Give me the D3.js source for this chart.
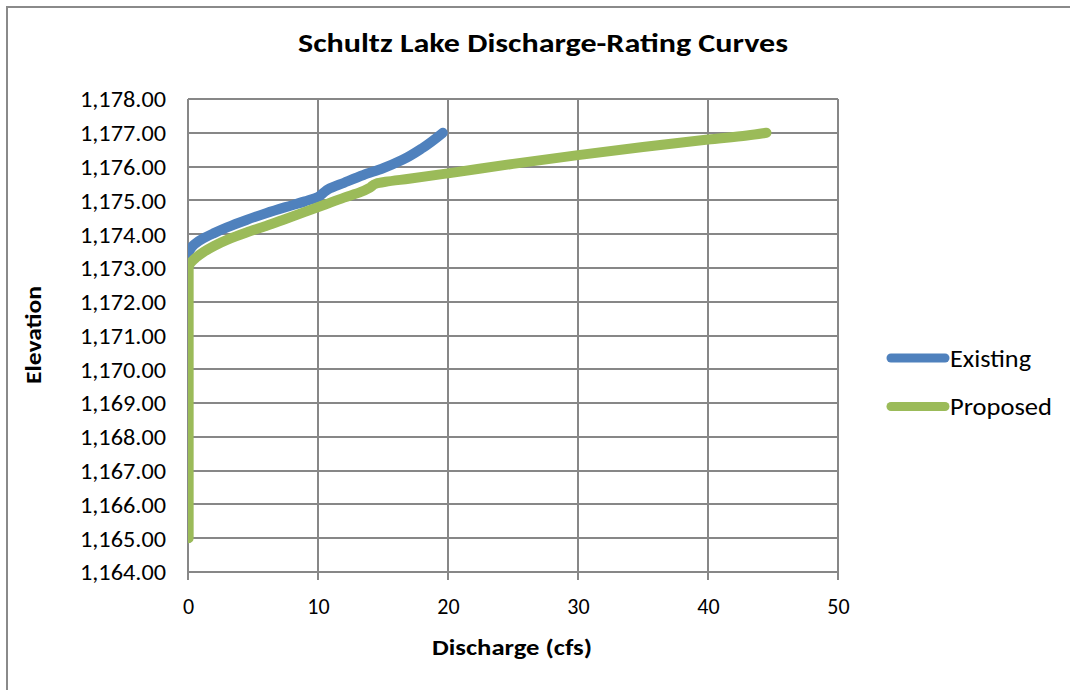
<!DOCTYPE html>
<html>
<head>
<meta charset="utf-8">
<script src="https://cdn.jsdelivr.net/npm/d3@7"></script>
<style>
  html, body { margin: 0; padding: 0; background: #fff; }
  svg { display: block; }
  text { font-family: Carlito, Calibri, Lato, "Open Sans", sans-serif; fill: #000; }
</style>
</head>
<body>
<svg id="chart" width="1070" height="690"></svg>
<script>
// ---- data ----
const title = "Schultz Lake Discharge-Rating Curves";
const xTitle = "Discharge (cfs)";
const yTitle = "Elevation";
const seriesNames = ["Existing", "Proposed"];
const seriesColors = ["#4F81BD", "#9BBB59"];
const legendWidths = [81, 102];

const existingQ = [0, 0, 0.1, 0.5, 1.2, 2.0, 3.0, 4.5, 6.0, 7.5, 9.0, 10.0, 10.4, 10.8, 12.0, 13.5, 15.0, 16.5, 18.0, 19.6];
const existingE = [1165, 1173.3, 1173.5, 1173.7, 1173.88, 1174.03, 1174.2, 1174.42, 1174.62, 1174.8, 1174.97, 1175.1, 1175.22, 1175.33, 1175.52, 1175.75, 1175.95, 1176.2, 1176.54, 1177.0];

const proposedQ = [0.05, 0.05, 0.2, 0.6, 1.2, 2.0, 3.0, 4.5, 6.0, 7.5, 9.0, 10.5, 12.0, 13.3, 14.0, 14.5, 15.2, 17.0, 20.0, 25.0, 30.0, 35.0, 40.0, 43.0, 44.5];
const proposedE = [1165, 1173.0, 1173.15, 1173.3, 1173.47, 1173.65, 1173.83, 1174.05, 1174.24, 1174.45, 1174.66, 1174.87, 1175.08, 1175.25, 1175.38, 1175.5, 1175.55, 1175.64, 1175.8, 1176.08, 1176.34, 1176.58, 1176.8, 1176.92, 1177.0];

const xTicks = [0, 10, 20, 30, 40, 50];
const yTicks = [1164, 1165, 1166, 1167, 1168, 1169, 1170, 1171, 1172, 1173, 1174, 1175, 1176, 1177, 1178];

// ---- layout ----
const svg = d3.select("#chart");
const plot = { left: 188, right: 838, top: 99, bottom: 572 };
const x = d3.scaleLinear().domain([0, 50]).range([plot.left, plot.right]);
const y = d3.scaleLinear().domain([1164, 1178]).range([plot.bottom, plot.top]);
const gridColor = "#878787";
const fontFam = "Carlito, Calibri, Lato, sans-serif";

// outer border
svg.append("rect").attr("x", 7).attr("y", 7).attr("width", 1080).attr("height", 700)
  .attr("fill", "none").attr("stroke", "#8a8a8a").attr("stroke-width", 2);

// title
svg.append("text").attr("x", 543).attr("y", 52).attr("text-anchor", "middle")
  .attr("font-size", 27).attr("font-weight", "bold")
  .attr("textLength", 490).attr("lengthAdjust", "spacingAndGlyphs")
  .text(title);

// gridlines
svg.append("g").selectAll("line").data(yTicks).join("line")
  .attr("x1", plot.left).attr("x2", plot.right)
  .attr("y1", d => Math.round(y(d))).attr("y2", d => Math.round(y(d)))
  .attr("stroke", gridColor).attr("stroke-width", 2);
svg.append("g").selectAll("line").data(xTicks).join("line")
  .attr("x1", d => Math.round(x(d))).attr("x2", d => Math.round(x(d)))
  .attr("y1", plot.top).attr("y2", plot.bottom + 8)
  .attr("stroke", gridColor).attr("stroke-width", 2);

// axes (labels via d3 axis)
const yAxis = d3.axisLeft(y).tickValues(yTicks).tickSize(0).tickPadding(22)
  .tickFormat(d3.format(",.2f"));
const gy = svg.append("g").attr("transform", `translate(${plot.left},0)`).call(yAxis);
gy.select(".domain").remove();
gy.selectAll("text").attr("font-size", 22).attr("dy", "0.36em")
  .attr("textLength", 86).attr("lengthAdjust", "spacingAndGlyphs")
  .style("font-family", fontFam);

const xAxis = d3.axisBottom(x).tickValues(xTicks).tickSize(0).tickPadding(0)
  .tickFormat(d3.format("d"));
const gx = svg.append("g").attr("transform", `translate(0,${plot.bottom})`).call(xAxis);
gx.select(".domain").remove();
gx.selectAll("text").attr("font-size", 22).attr("dy", null).attr("y", 42)
  .style("font-family", fontFam);

// axis lines
svg.append("line").attr("x1", plot.left).attr("x2", plot.left)
  .attr("y1", plot.top).attr("y2", plot.bottom + 8).attr("stroke", gridColor).attr("stroke-width", 2);
svg.append("line").attr("x1", plot.left).attr("x2", plot.right)
  .attr("y1", plot.bottom).attr("y2", plot.bottom).attr("stroke", gridColor).attr("stroke-width", 2);

// axis titles
svg.append("text").attr("x", 512).attr("y", 655).attr("text-anchor", "middle")
  .attr("font-size", 23).attr("font-weight", "bold")
  .attr("textLength", 160).attr("lengthAdjust", "spacingAndGlyphs")
  .text(xTitle);
svg.append("text").attr("transform", "translate(41,335) rotate(-90)").attr("text-anchor", "middle")
  .attr("font-size", 23).attr("font-weight", "bold")
  .attr("textLength", 98).attr("lengthAdjust", "spacingAndGlyphs")
  .text(yTitle);

// clip
svg.append("clipPath").attr("id", "plotclip").append("rect")
  .attr("x", plot.left).attr("y", 0).attr("width", plot.right - plot.left + 20).attr("height", 690);

const line = d3.line().x(d => x(d[0])).y(d => y(d[1])).curve(d3.curveMonotoneY);
const series = [
  d3.zip(existingQ, existingE),
  d3.zip(proposedQ, proposedE)
];
const gLines = svg.append("g").attr("clip-path", "url(#plotclip)");
series.forEach((s, i) => {
  gLines.append("path").datum(s).attr("d", line)
    .attr("fill", "none").attr("stroke", seriesColors[i]).attr("stroke-width", 10)
    .attr("stroke-linecap", "round").attr("stroke-linejoin", "round");
});

// legend
const legend = svg.append("g");
seriesNames.forEach((name, i) => {
  const ly = 358 + i * 48.5;
  legend.append("line").attr("x1", 891).attr("x2", 945).attr("y1", ly).attr("y2", ly)
    .attr("stroke", seriesColors[i]).attr("stroke-width", 9).attr("stroke-linecap", "round");
  legend.append("text").attr("x", 950).attr("y", ly).attr("dy", "0.36em")
    .attr("font-size", 24)
    .attr("textLength", legendWidths[i]).attr("lengthAdjust", "spacingAndGlyphs")
    .text(name);
});
</script>
</body>
</html>
